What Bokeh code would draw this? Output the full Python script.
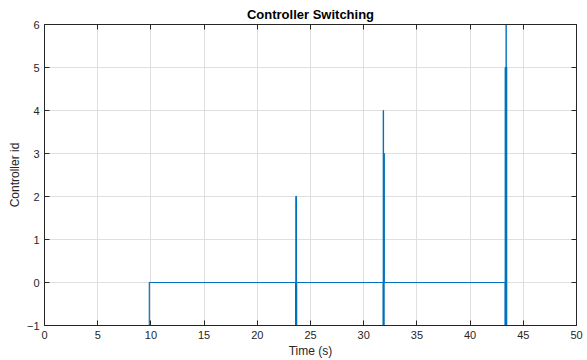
from bokeh.plotting import figure
from bokeh.models import LinearAxis, FixedTicker, Range1d
from bokeh.embed import file_html
from bokeh.resources import INLINE

# Switching log: time (s) at which each controller becomes active, and its id
switch_time = [0.0, 9.85,
               23.60, 23.62, 23.64, 23.66, 23.68, 23.70,
               31.82, 31.84, 31.86, 31.88, 31.90, 31.92, 31.94,
               43.28, 43.30, 43.32, 43.34, 43.36, 43.38, 43.40, 43.44, 45.2]
controller_id = [-1, 0,
                 -1, 2, -1, 2, -1, 0,
                 -1, 4, -1, 3, -1, 3, 0,
                 -1, 5, -1, 5, -1, 6, 5, -1, -1]

x_ticks = [0, 5, 10, 15, 20, 25, 30, 35, 40, 45, 50]
y_ticks = [-1, 0, 1, 2, 3, 4, 5, 6]

FONT = "Liberation Sans"
INK = "#262626"
BLUE = "#0072BD"

p = figure(width=587, height=360, output_backend="svg", toolbar_location=None,
           x_range=Range1d(0, 50), y_range=Range1d(-1, 6),
           min_border_left=44, min_border_right=11,
           min_border_top=24, min_border_bottom=34)

p.title.text = "Controller Switching"
p.title.align = "center"
p.title.text_font = FONT
p.title.text_font_size = "13px"
p.title.text_font_style = "bold"
p.title.text_color = "#000000"
p.title.standoff = 5

p.step(switch_time, controller_id, mode="after", line_color=BLUE, line_width=1.2)

p.outline_line_color = INK
p.outline_line_width = 1

for ax, ticks in ((p.xaxis[0], x_ticks), (p.yaxis[0], y_ticks)):
    ax.ticker = FixedTicker(ticks=ticks)
    ax.major_tick_in = 5
    ax.major_tick_out = 0
    ax.minor_tick_line_color = None
    ax.axis_line_color = INK
    ax.major_tick_line_color = INK
    ax.major_label_text_font = FONT
    ax.major_label_text_font_size = "11px"
    ax.major_label_text_color = INK
    ax.axis_label_text_font = FONT
    ax.axis_label_text_font_size = "12px"
    ax.axis_label_text_font_style = "normal"
    ax.axis_label_text_color = INK

p.xaxis.axis_label = "Time (s)"
p.yaxis.axis_label = "Controller id"
p.xaxis.major_label_standoff = 5
p.xaxis.axis_label_standoff = 2
p.yaxis.major_label_standoff = 5
p.yaxis.axis_label_standoff = 2

# Mirror ticks on the top and right edges (boxed axes), without labels
top = LinearAxis(ticker=FixedTicker(ticks=x_ticks))
right = LinearAxis(ticker=FixedTicker(ticks=y_ticks))
for ax in (top, right):
    ax.major_tick_in = 5
    ax.major_tick_out = 0
    ax.minor_tick_line_color = None
    ax.axis_line_color = INK
    ax.major_tick_line_color = INK
    ax.major_label_text_font_size = "1px"
    ax.major_label_text_color = None
    ax.major_label_standoff = 0
p.add_layout(top, "above")
p.add_layout(right, "right")

p.xgrid.ticker = FixedTicker(ticks=x_ticks)
p.ygrid.ticker = FixedTicker(ticks=y_ticks)
p.grid.grid_line_color = "#dfdfdf"
p.grid.grid_line_width = 1

open("out.html", "w").write(file_html(p, INLINE))
